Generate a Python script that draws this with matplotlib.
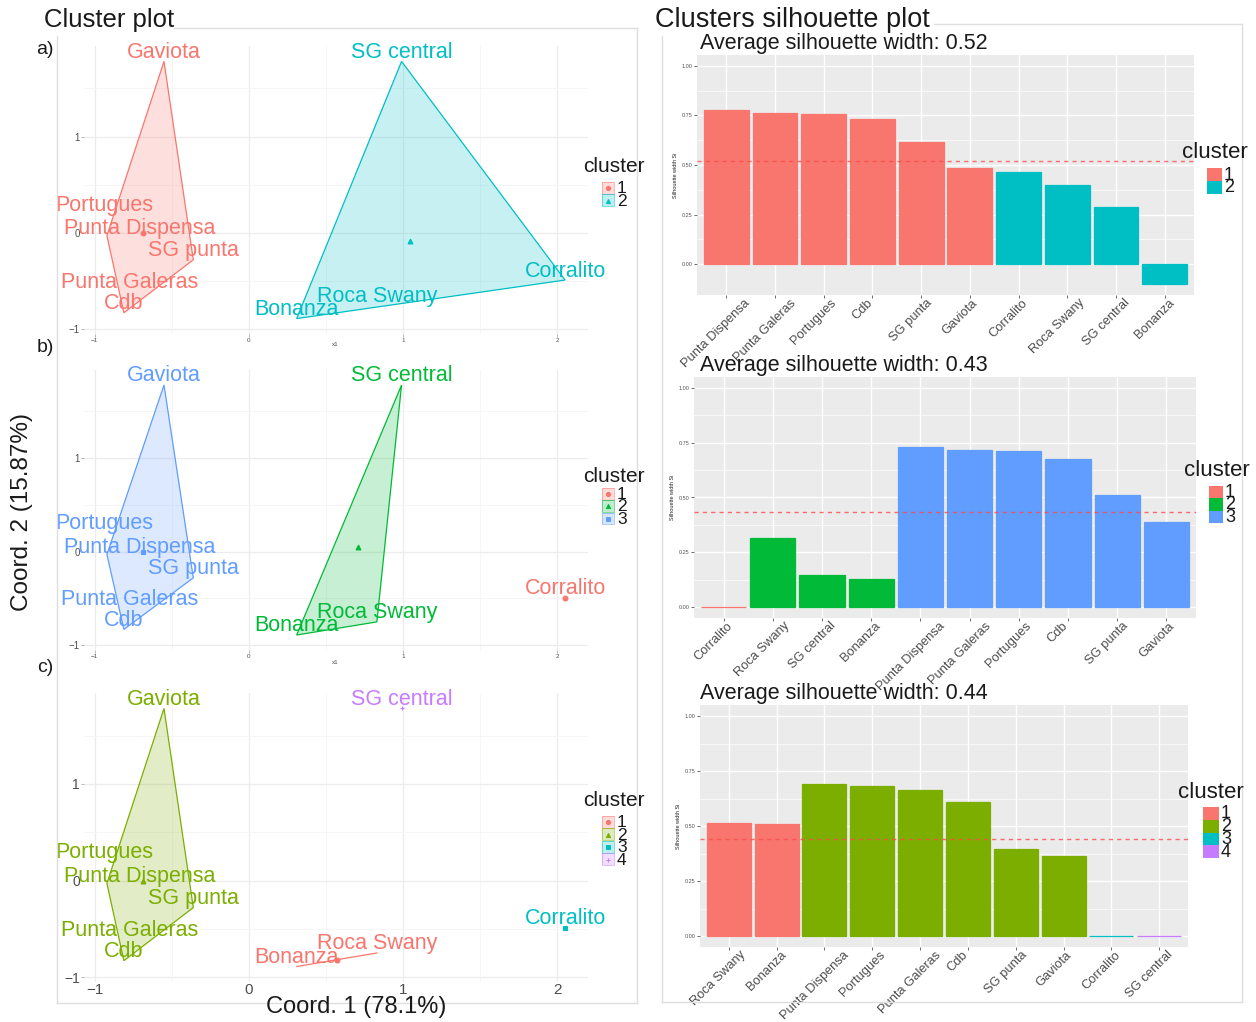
import numpy as np
import matplotlib
matplotlib.use("Agg")
import matplotlib.pyplot as plt
from matplotlib.patches import Polygon, Rectangle
from matplotlib.transforms import ScaledTranslation, blended_transform_factory

plt.rcParams['font.family'] = ['Liberation Sans', 'DejaVu Sans']

# ---------------------------------------------------------------- data
sites = ["Gaviota", "Portugues", "Punta Dispensa", "SG punta", "Punta Galeras",
         "Cdb", "SG central", "Corralito", "Bonanza", "Roca Swany"]
coord1 = [-0.55, -0.92, -0.71, -0.36, -0.77, -0.81, 0.99, 2.05, 0.31, 0.83]
coord2 = [1.78, -0.03, -0.05, -0.28, -0.61, -0.83, 1.78, -0.49, -0.89, -0.75]

cluster_k2 = [1, 1, 1, 1, 1, 1, 2, 2, 2, 2]
cluster_k3 = [3, 3, 3, 3, 3, 3, 2, 1, 2, 2]
cluster_k4 = [2, 2, 2, 2, 2, 2, 4, 3, 1, 1]

palette_k2 = ["#F8766D", "#00BFC4"]
palette_k3 = ["#F8766D", "#00BA38", "#619CFF"]
palette_k4 = ["#F8766D", "#7CAE00", "#00BFC4", "#C77CFF"]

sil_names_k2 = ["Punta Dispensa", "Punta Galeras", "Portugues", "Cdb", "SG punta",
                "Gaviota", "Corralito", "Roca Swany", "SG central", "Bonanza"]
sil_width_k2 = [0.78, 0.765, 0.76, 0.73, 0.615, 0.485, 0.465, 0.40, 0.29, -0.10]
sil_clust_k2 = [1, 1, 1, 1, 1, 1, 2, 2, 2, 2]

sil_names_k3 = ["Corralito", "Roca Swany", "SG central", "Bonanza", "Punta Dispensa",
                "Punta Galeras", "Portugues", "Cdb", "SG punta", "Gaviota"]
sil_width_k3 = [0.0, 0.315, 0.147, 0.13, 0.73, 0.715, 0.713, 0.677, 0.512, 0.39]
sil_clust_k3 = [1, 2, 2, 2, 3, 3, 3, 3, 3, 3]

sil_names_k4 = ["Roca Swany", "Bonanza", "Punta Dispensa", "Portugues", "Punta Galeras",
                "Cdb", "SG punta", "Gaviota", "Corralito", "SG central"]
sil_width_k4 = [0.515, 0.508, 0.69, 0.682, 0.664, 0.611, 0.395, 0.365, 0.0, 0.0]
sil_clust_k4 = [1, 1, 2, 2, 2, 2, 2, 2, 3, 4]

# ---------------------------------------------------------------- layout
W, H = 1256, 1022
fig = plt.figure(figsize=(W / 100, H / 100), dpi=100)
fig.patch.set_facecolor("white")


def ax_px(l, t, r, b):
    return fig.add_axes([l / W, 1 - b / H, (r - l) / W, (b - t) / H])


def convex_hull(pts):
    pts = sorted(map(tuple, pts))

    def cross(o, a, b):
        return (a[0] - o[0]) * (b[1] - o[1]) - (a[1] - o[1]) * (b[0] - o[0])

    lower, upper = [], []
    for p in pts:
        while len(lower) >= 2 and cross(lower[-2], lower[-1], p) <= 0:
            lower.pop()
        lower.append(p)
    for p in reversed(pts):
        while len(upper) >= 2 and cross(upper[-2], upper[-1], p) <= 0:
            upper.pop()
        upper.append(p)
    return lower[:-1] + upper[:-1]


centre_marker = ["o", "^", "s", "+"]
label_nudge = {"Portugues": (-2, 22)}
TICK_GREY = "#4d4d4d"


def cluster_panel(rect, clusters, palette, bottom_axis):
    ax = ax_px(*rect)
    x = np.array(coord1)
    y = np.array(coord2)
    cl = np.array(clusters)
    xr = x.max() - x.min()
    yr = y.max() - y.min()
    ax.set_xlim(x.min() - 0.05 * xr, x.max() + 0.05 * xr)
    ax.set_ylim(y.min() - 0.06 * yr, y.max() + 0.06 * yr)
    for s in ax.spines.values():
        s.set_visible(False)
    for v in np.arange(-1, 2.01, 0.5):
        major = float(v).is_integer()
        ax.axvline(v, color="#ececec" if major else "#f5f5f5",
                   lw=0.9 if major else 0.6, zorder=0)
    for v in np.arange(-1, 1.51, 0.5):
        major = float(v).is_integer()
        ax.axhline(v, color="#ececec" if major else "#f5f5f5",
                   lw=0.9 if major else 0.6, zorder=0)

    for k in range(1, len(palette) + 1):
        idx = np.where(cl == k)[0]
        col = palette[k - 1]
        px, py = x[idx], y[idx]
        if len(idx) >= 3:
            hull = convex_hull(np.column_stack([px, py]))
            ax.add_patch(Polygon(hull, closed=True, facecolor=col, alpha=0.22,
                                 edgecolor="none", zorder=1))
            ax.add_patch(Polygon(hull, closed=True, fill=False, edgecolor=col,
                                 lw=0.9, zorder=2))
        elif len(idx) == 2:
            ax.plot(px, py, color=col, lw=0.9, zorder=2)
        ax.plot(px.mean(), py.mean(), marker=centre_marker[k - 1], color=col,
                ms=3.5, mew=0.8, zorder=3, ls="none")
        for i in idx:
            dx, dy = label_nudge.get(sites[i], (0, 6.5))
            ax.annotate(sites[i], (x[i], y[i]), xytext=(dx, dy),
                        textcoords="offset points", ha="center", va="center",
                        color=col, fontsize=15.5, annotation_clip=False, zorder=4)

    ax.set_xticks([-1, 0, 1, 2])
    ax.set_yticks([-1, 0, 1])
    ax.tick_params(colors="#aaaaaa", length=2, width=0.6, labelcolor=TICK_GREY)
    if bottom_axis:
        ax.tick_params(axis="x", labelsize=11, pad=1, length=0)
        ax.tick_params(axis="y", labelsize=10, pad=1)
    else:
        ax.tick_params(axis="x", labelsize=4.5, pad=1)
        ax.tick_params(axis="y", labelsize=7, pad=1)
    return ax


def sil_panel(rect, names, widths, clust, palette):
    ax = ax_px(*rect)
    n = len(names)
    pos = np.arange(1, n + 1)
    widths = np.array(widths)
    colors = [palette[c - 1] for c in clust]
    lo = min(0.0, widths.min())
    hi = 1.0
    pad = 0.05 * (hi - lo)
    ax.set_ylim(lo - pad, hi + pad)
    ax.set_xlim(0.4, n + 0.6)
    ax.set_facecolor("#EBEBEB")
    for s in ax.spines.values():
        s.set_visible(False)
    for v in np.arange(0, 1.01, 0.25):
        ax.axhline(v, color="white", lw=1.0, zorder=0)
    for v in np.arange(0.125, 1.0, 0.25):
        ax.axhline(v, color="white", lw=0.5, zorder=0)
    for p in pos:
        ax.axvline(p, color="white", lw=1.0, zorder=0)
    ax.bar(pos, widths, width=0.92, color=colors, edgecolor=colors,
           linewidth=0.9, zorder=2)
    ax.axhline(widths.mean(), color="#ff4a4a", lw=1.0, ls=(0, (3, 3)),
               alpha=0.8, zorder=3)
    ax.set_xticks(pos)
    ax.set_xticklabels([])
    # rotated category names, centred a little to the left of each tick
    trans = (blended_transform_factory(ax.transData, ax.transAxes)
             + ScaledTranslation(-0.10, -0.02, fig.dpi_scale_trans))
    for p, name in zip(pos, names):
        ax.text(p, 0, name, transform=trans, rotation=45, ha="center", va="top",
                fontsize=9.3, color=TICK_GREY, clip_on=False)
    ax.set_yticks(np.arange(0, 1.01, 0.25))
    ax.set_yticklabels([f"{v:.2f}" for v in np.arange(0, 1.01, 0.25)],
                       fontsize=4, color=TICK_GREY)
    ax.tick_params(colors="#555555", length=2, width=0.6, pad=1.5)
    ax.set_ylabel("Silhouette width Si", fontsize=4, labelpad=2, color="#222222")
    return ax, widths.mean()


# ---------------------------------------------------------------- cluster plots
cluster_panel((84, 46, 588, 334), cluster_k2, palette_k2, False)
cluster_panel((84, 370, 588, 650), cluster_k3, palette_k3, False)
cluster_panel((84, 693, 588, 982), cluster_k4, palette_k4, True)

# ---------------------------------------------------------------- silhouettes
_, m2 = sil_panel((697, 55, 1194, 295), sil_names_k2, sil_width_k2, sil_clust_k2, palette_k2)
_, m3 = sil_panel((694, 377, 1196, 618), sil_names_k3, sil_width_k3, sil_clust_k3, palette_k3)
_, m4 = sil_panel((700, 705, 1188, 947), sil_names_k4, sil_width_k4, sil_clust_k4, palette_k4)

# ---------------------------------------------------------------- overlay (titles, frames, legends)
ov = fig.add_axes([0, 0, 1, 1])
ov.set_xlim(0, W)
ov.set_ylim(H, 0)
ov.axis("off")
ov.patch.set_alpha(0)

FRAME = "#dedede"
# left composite frame
ov.plot([174, 637], [28, 28], color=FRAME, lw=1)
ov.plot([637, 637], [28, 1003], color=FRAME, lw=1)
ov.plot([57, 637], [1003, 1003], color=FRAME, lw=1)
ov.plot([57, 57], [36, 1003], color=FRAME, lw=1)
# right composite frame
ov.plot([934, 1242], [24, 24], color=FRAME, lw=1)
ov.plot([662, 662], [36, 1002], color=FRAME, lw=1)
ov.plot([1242, 1242], [24, 1002], color=FRAME, lw=1)
ov.plot([662, 1242], [1002, 1002], color=FRAME, lw=1)

ov.text(44, 20, "Cluster plot", fontsize=18.5, ha="left", va="center", color="#1a1a1a")
ov.text(655, 20, "Clusters silhouette plot", fontsize=19.5, ha="left", va="center",
        color="#1a1a1a")
for lab, yy in [("a)", 50), ("b)", 347), ("c)", 667)]:
    ov.text(45, yy, lab, fontsize=14, ha="center", va="center", color="#1a1a1a")

ov.text(22, 512, "Coord. 2 (15.87%)", fontsize=17.5, rotation=90, ha="center",
        va="center", color="#1a1a1a")
ov.text(356, 1007, "Coord. 1 (78.1%)", fontsize=17, ha="center", va="center",
        color="#1a1a1a")
ov.text(335, 345, "x1", fontsize=4.5, ha="center", va="center", color=TICK_GREY)
ov.text(335, 663, "x1", fontsize=4.5, ha="center", va="center", color=TICK_GREY)

for mean_val, yy in [(m2, 43), (m3, 366), (m4, 694)]:
    ov.text(700, yy, f"Average silhouette width: {mean_val:.2f}", fontsize=15.5,
            ha="left", va="center", color="#1a1a1a")


def point_legend(x0, title_y, key_top, key_h, palette):
    ov.text(x0 + 12, title_y, "cluster", fontsize=15, ha="center", va="center",
            color="#1a1a1a")
    for i, col in enumerate(palette):
        top = key_top + i * key_h
        ov.add_patch(Rectangle((x0, top), 12, key_h - 0.5, facecolor=col, alpha=0.25,
                               edgecolor="none"))
        ov.add_patch(Rectangle((x0, top), 12, key_h - 0.5, fill=False, edgecolor=col,
                               lw=0.6, alpha=0.6))
        ov.plot(x0 + 6, top + key_h / 2, marker=centre_marker[i], color=col, ms=3,
                mew=0.7, ls="none")
        ov.text(x0 + 15, top + key_h / 2 + 0.5, str(i + 1), fontsize=12.5,
                ha="left", va="center", color="#1a1a1a")


def bar_legend(x0, key_w, title_y, key_top, key_h, palette):
    ov.text(x0 + 8, title_y, "cluster", fontsize=16, ha="center", va="center",
            color="#1a1a1a")
    for i, col in enumerate(palette):
        top = key_top + i * key_h
        ov.add_patch(Rectangle((x0, top), key_w, key_h, facecolor=col, edgecolor="none"))
        ov.text(x0 + key_w + 2, top + key_h / 2 + 0.5, str(i + 1), fontsize=13,
                ha="left", va="center", color="#1a1a1a")


point_legend(602, 166, 182, 12.5, palette_k2)
point_legend(602, 476, 488, 12.3, palette_k3)
point_legend(602, 800, 816, 12.5, palette_k4)

bar_legend(1207, 15, 153, 168, 13, palette_k2)
bar_legend(1209, 14, 470, 486, 12.3, palette_k3)
bar_legend(1203, 16, 792, 807, 12.8, palette_k4)

fig.savefig("out.png", dpi=100)
